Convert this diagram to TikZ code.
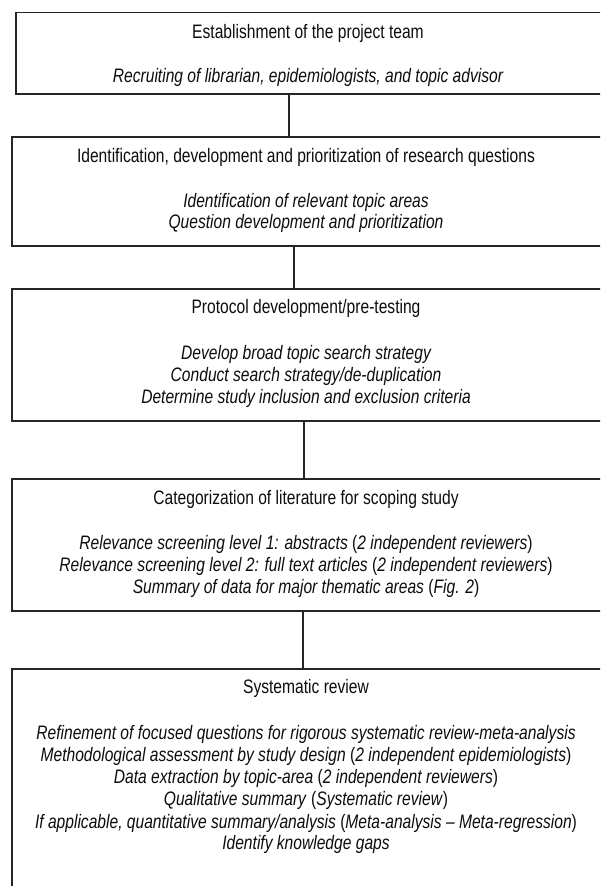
\documentclass[tikz,border=0pt]{standalone}
\usepackage{fontspec}
\setmainfont{Liberation Sans}[FakeStretch=0.8]
\begin{document}
\begin{tikzpicture}[x=1pt,y=-1pt,
  box/.style={draw=black!85,line width=1.2pt,rectangle,inner sep=0pt,minimum width=#1},
  box/.default=590pt,
  ln/.style={anchor=base,inner sep=0pt,font=\fontsize{19.5}{22}\selectfont,text=black!95},
  con/.style={draw=black!85,line width=1.2pt}]
\useasboundingbox (0,0) rectangle (600,886);
\clip (0,0) rectangle (600,886);
\fill[white] (0,0) rectangle (600,886);
% boxes
\node[box=586pt,minimum height=81.3pt] (b1) at (309,53.35) {};
\node[box,minimum height=109pt] (b2) at (307,191.5) {};
\node[box,minimum height=132pt] (b3) at (307,355) {};
\node[box,minimum height=132pt] (b4) at (307,545) {};
\node[box,minimum height=231pt] (b5) at (307,784.5) {};
% connectors
\draw[con] (b1.south -| 289,0) -- (b2.north -| 289,0);
\draw[con] (b2.south -| 294,0) -- (b3.north -| 294,0);
\draw[con] (b3.south -| 304,0) -- (b4.north -| 304,0);
\draw[con] (b4.south -| 303,0) -- (b5.north -| 303,0);
% box 1
\node[ln] (t1a) at (308,38) {Establishment of the project team};
\node[ln] (t1b) at (308,82) {\itshape Recruiting of librarian, epidemiologists, and topic advisor};
% box 2
\node[ln] (t2a) at (306,162) {Identification, development and prioritization of research questions};
\node[ln] (t2b) at (306,207) {\itshape Identification of relevant topic areas};
\node[ln] (t2c) at (306,228) {\itshape Question development and prioritization};
% box 3
\node[ln] (t3a) at (306,313) {Protocol development/pre-testing};
\node[ln] (t3b) at (306,359) {\itshape Develop broad topic search strategy};
\node[ln] (t3c) at (306,381) {\itshape Conduct search strategy/de-duplication};
\node[ln] (t3d) at (306,403) {\itshape Determine study inclusion and exclusion criteria};
% box 4
\node[ln] (t4a) at (306,504) {Categorization of literature for scoping study};
\node[ln] (t4b) at (306,549) {\textit{Relevance screening level 1: abstracts} (\textit{2 independent reviewers})};
\node[ln] (t4c) at (306,571) {\textit{Relevance screening level 2: full text articles} (\textit{2 independent reviewers})};
\node[ln] (t4d) at (306,593) {\textit{Summary of data for major thematic areas} (\textit{Fig. 2})};
% box 5
\node[ln] (t5a) at (306,693) {Systematic review};
\node[ln] (t5b) at (306,739) {\itshape Refinement of focused questions for rigorous systematic review-meta-analysis};
\node[ln] (t5c) at (306,761) {\textit{Methodological assessment by study design} (\textit{2 independent epidemiologists})};
\node[ln] (t5d) at (306,783) {\textit{Data extraction by topic-area} (\textit{2 independent reviewers})};
\node[ln] (t5e) at (306,805) {\textit{Qualitative summary} (\textit{Systematic review})};
\node[ln] (t5f) at (306,828) {\textit{If applicable, quantitative summary/analysis} (\textit{Meta-analysis -- Meta-regression})};
\node[ln] (t5g) at (306,849) {\itshape Identify knowledge gaps};
\end{tikzpicture}
\end{document}
